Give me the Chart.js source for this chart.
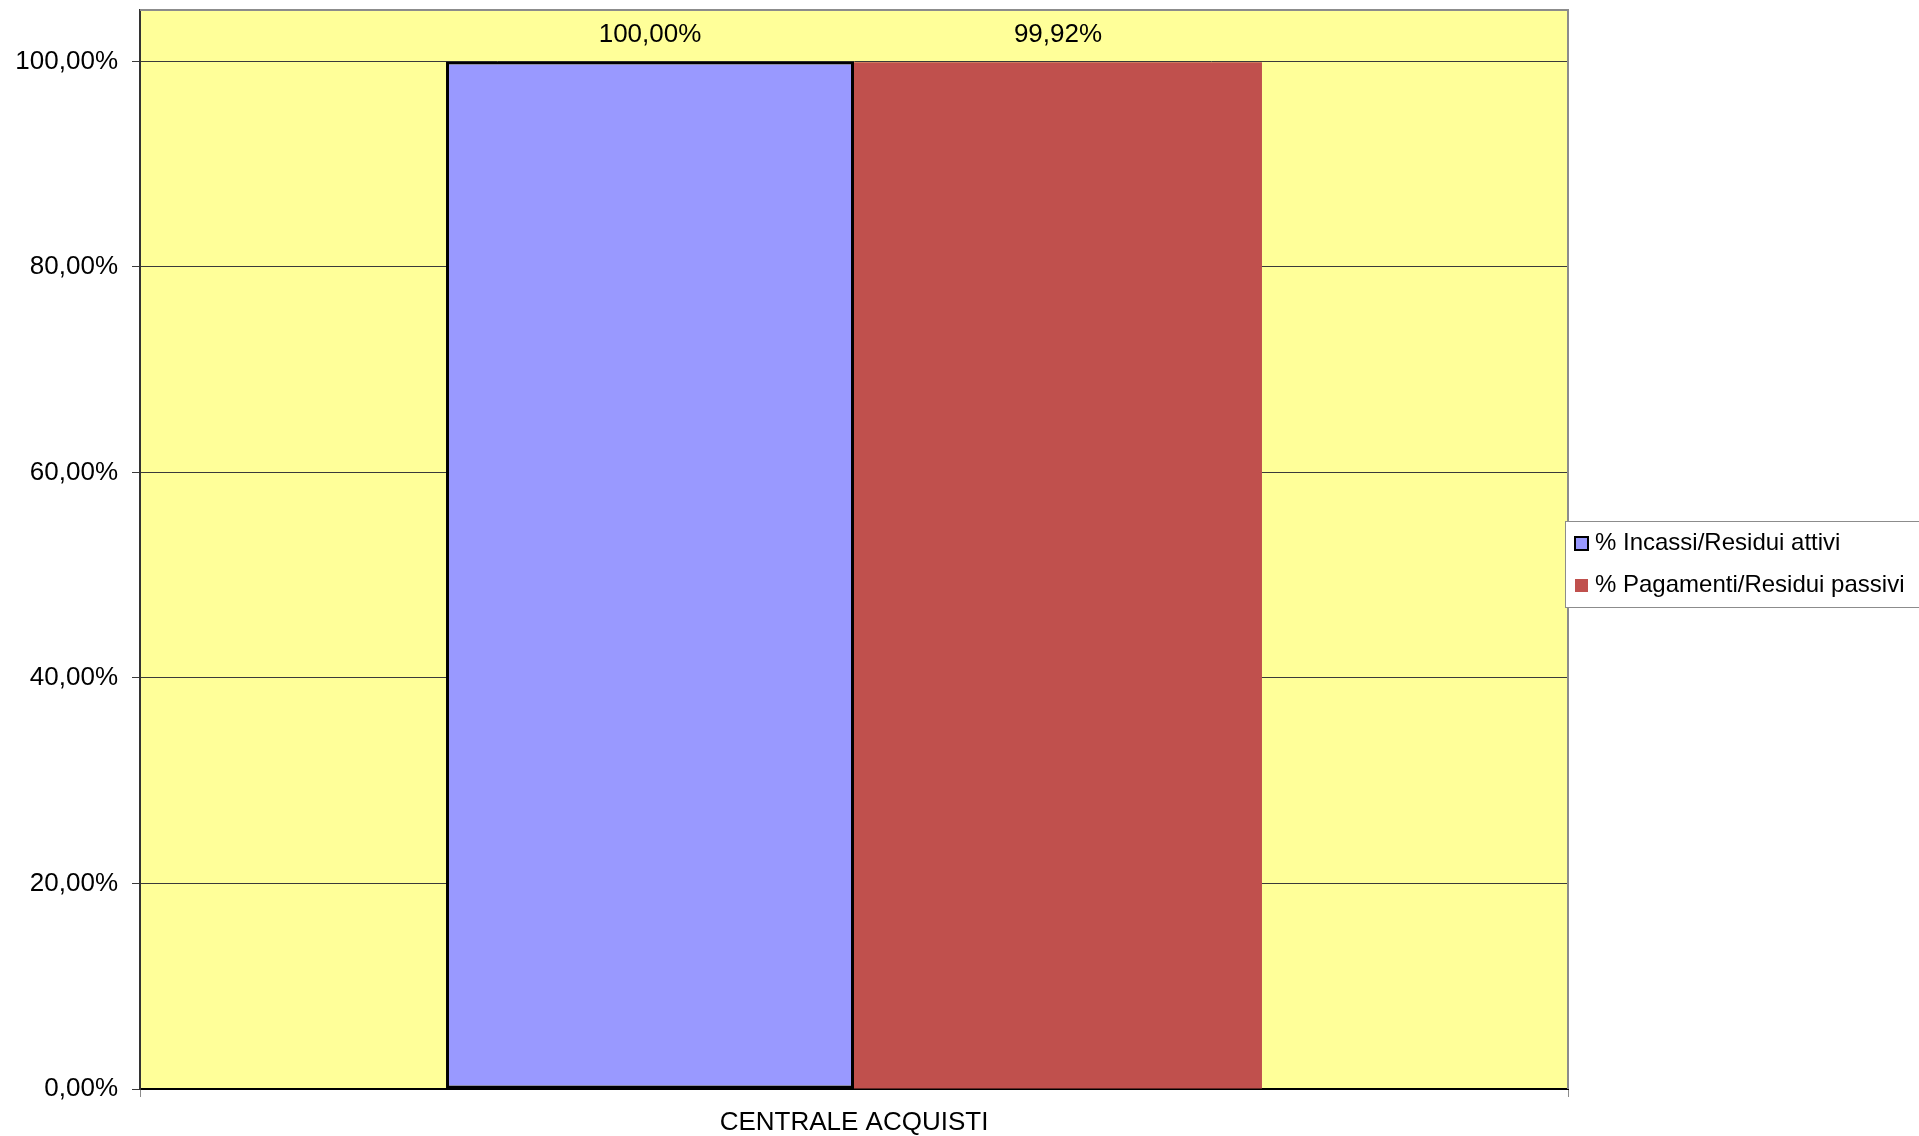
<!DOCTYPE html>
<html>
<head>
<meta charset="utf-8">
<script src="https://cdn.jsdelivr.net/npm/chart.js@4/dist/chart.umd.min.js"></script>
<style>
  html, body { margin: 0; padding: 0; background: #fff; }
  #wrap { width: 1919px; height: 1136px; position: relative; }
</style>
</head>
<body>
<div id="wrap"><canvas id="c"></canvas></div>
<script>
// dati
const categorie = ['CENTRALE ACQUISTI'];
const serieNomi = ['% Incassi/Residui attivi', '% Pagamenti/Residui passivi'];
const incassi = [1.0];
const pagamenti = [0.9992];
const yTicks = [0, 0.2, 0.4, 0.6, 0.8, 1.0];

const FONT = '"Liberation Sans", Arial, sans-serif';

function pct(v) {
    return (v * 100).toFixed(2).replace('.', ',') + '%';
}

// sfondo giallo dell'area del grafico + bordi
const sfondoPlugin = {
    id: 'sfondo',
    beforeDraw(chart) {
        const { ctx, chartArea: a } = chart;
        ctx.save();
        ctx.fillStyle = '#FFFF99';
        ctx.fillRect(a.left, a.top, a.right - a.left, a.bottom - a.top);
        ctx.restore();
    },
    afterDraw(chart) {
        const { ctx, chartArea: a } = chart;
        ctx.save();
        ctx.strokeStyle = '#8c8c8c';
        ctx.lineWidth = 2;
        ctx.beginPath();
        ctx.moveTo(a.left, a.top);
        ctx.lineTo(a.right, a.top);
        ctx.lineTo(a.right, a.bottom);
        ctx.stroke();
        ctx.restore();
    }
};

// etichette dei valori sopra le barre
const etichettePlugin = {
    id: 'etichette',
    afterDatasetsDraw(chart) {
        const ctx = chart.ctx;
        ctx.save();
        ctx.font = '26px ' + FONT;
        ctx.fillStyle = '#000';
        ctx.textAlign = 'center';
        ctx.textBaseline = 'middle';
        chart.data.datasets.forEach((ds, i) => {
            chart.getDatasetMeta(i).data.forEach((bar, j) => {
                ctx.fillText(pct(ds.data[j]), bar.x, bar.y - 27);
            });
        });
        ctx.restore();
    }
};

// legenda in stile Excel
const legendaPlugin = {
    id: 'legenda',
    afterDraw(chart) {
        const ctx = chart.ctx;
        const x = 1565, y = 521, w = 370, h = 86;
        ctx.save();
        ctx.fillStyle = '#fff';
        ctx.fillRect(x, y, w, h);
        ctx.strokeStyle = '#8c8c8c';
        ctx.lineWidth = 1;
        ctx.strokeRect(x + 0.5, y + 0.5, w, h);
        ctx.font = '24px ' + FONT;
        ctx.textBaseline = 'middle';
        ctx.textAlign = 'left';
        chart.data.datasets.forEach((ds, i) => {
            const cy = y + 22 + i * 42;
            ctx.fillStyle = ds.backgroundColor;
            ctx.fillRect(x + 10, cy - 6, 13, 13);
            if (ds.borderWidth > 0) {
                ctx.strokeStyle = '#000';
                ctx.lineWidth = 2;
                ctx.strokeRect(x + 10, cy - 6, 13, 13);
            }
            ctx.fillStyle = '#000';
            ctx.fillText(ds.label, x + 30, cy);
        });
        ctx.restore();
    }
};

new Chart(document.getElementById('c').getContext('2d'), {
    type: 'bar',
    data: {
        labels: categorie,
        datasets: [
            {
                label: serieNomi[0],
                data: incassi,
                backgroundColor: '#9999FF',
                borderColor: '#000',
                borderWidth: 3,
                borderSkipped: false,
                categoryPercentage: 0.5714,
                barPercentage: 1.0
            },
            {
                label: serieNomi[1],
                data: pagamenti,
                backgroundColor: '#C0504D',
                borderWidth: 0,
                categoryPercentage: 0.5714,
                barPercentage: 1.0
            }
        ]
    },
    options: {
        responsive: true,
        maintainAspectRatio: false,
        animation: false,
        layout: { padding: { left: 0, right: 351, top: 10, bottom: 0 } },
        plugins: {
            legend: { display: false },
            tooltip: { enabled: false }
        },
        scales: {
            x: {
                grid: {
                    offset: true,
                    drawOnChartArea: false,
                    drawTicks: true,
                    tickLength: 8,
                    color: '#8c8c8c'
                },
                border: { display: true, color: '#000', width: 2 },
                ticks: {
                    font: { family: FONT, size: 26 },
                    color: '#000',
                    padding: 10
                },
                afterFit(scale) {
                    scale.height = 47;
                    scale.paddingLeft = 0;
                    scale.paddingRight = 0;
                }
            },
            y: {
                min: 0,
                max: 1.05,
                grid: {
                    color: '#3a3a3a',
                    lineWidth: 1,
                    tickLength: 8
                },
                border: { display: true, color: '#333', width: 2 },
                ticks: {
                    stepSize: 0.2,
                    font: { family: FONT, size: 26 },
                    color: '#000',
                    padding: 14,
                    callback: v => pct(v)
                },
                afterBuildTicks(scale) {
                    scale.ticks = yTicks.map(v => ({ value: v }));
                },
                afterFit(scale) {
                    scale.width = 140;
                    scale.paddingTop = 0;
                    scale.paddingBottom = 0;
                }
            }
        }
    },
    plugins: [sfondoPlugin, etichettePlugin, legendaPlugin]
});
</script>
</body>
</html>
